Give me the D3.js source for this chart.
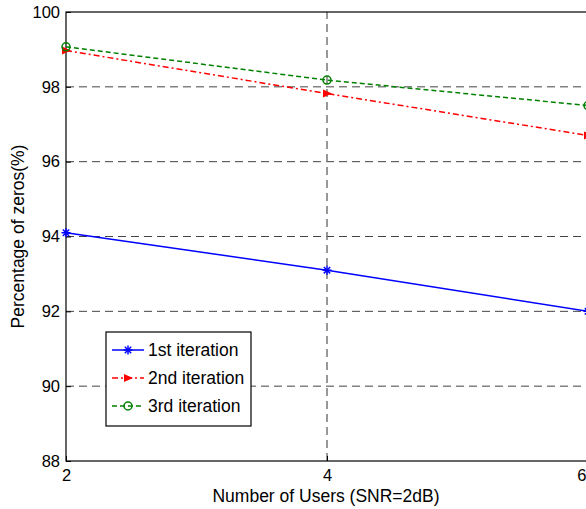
<!DOCTYPE html>
<html>
<head>
<meta charset="utf-8">
<script src="https://cdn.jsdelivr.net/npm/d3@7"></script>
<style>
  body { margin: 0; background: #fff; }
  svg { font-family: Arial, "Liberation Sans", sans-serif; }
</style>
</head>
<body>
<div class="chart"></div>
<script>
const width = 586, height = 509

// data
const users = [2, 4, 6]
const iter1 = [94.1, 93.1, 92.0]
const iter2 = [98.97, 97.82, 96.7]
const iter3 = [99.07, 98.18, 97.5]
const seriesNames = ['1st iteration', '2nd iteration', '3rd iteration']
const xTicks = [2, 4, 6]
const yTicks = [88, 90, 92, 94, 96, 98, 100]

const margin = { left: 66, top: 12, right: -2, bottom: 48 }

const svg = d3.select('.chart').append('svg')
    .attr('width', width)
    .attr('height', height)

const x = d3.scaleLinear().domain([2, 6]).range([margin.left, width - margin.right])
const y = d3.scaleLinear().domain([88, 100]).range([height - margin.bottom, margin.top])

// grid
svg.append('g').selectAll('line.hg')
    .data(yTicks.slice(1, -1))
    .enter().append('line')
    .attr('x1', x(2)).attr('x2', x(6))
    .attr('y1', d => y(d)).attr('y2', d => y(d))
    .attr('stroke', '#444')
    .attr('stroke-width', 1)
    .attr('stroke-dasharray', '8,5')
svg.append('g').selectAll('line.vg')
    .data(xTicks.slice(1, -1))
    .enter().append('line')
    .attr('x1', d => x(d)).attr('x2', d => x(d))
    .attr('y1', y(88)).attr('y2', y(100))
    .attr('stroke', '#777')
    .attr('stroke-width', 1.5)
    .attr('stroke-dasharray', '8,5')

// axes box
svg.append('rect')
    .attr('x', x(2)).attr('y', y(100))
    .attr('width', x(6) - x(2)).attr('height', y(88) - y(100))
    .attr('fill', 'none')
    .attr('stroke', '#000')
    .attr('stroke-width', 1.2)

const yAxis = d3.axisLeft(y).tickValues(yTicks).tickFormat(d3.format('d')).tickSize(-5).tickPadding(6)
svg.append('g')
    .attr('transform', `translate(${x(2)},0)`)
    .call(yAxis)
    .call(g => g.select('.domain').remove())
    .call(g => g.selectAll('text').style('font-size', '16.5px').attr('fill', '#000').style('font-family', 'Arial, Liberation Sans'))

const xAxis = d3.axisBottom(x).tickValues(xTicks).tickFormat(d3.format('d')).tickSize(-5).tickPadding(8)
svg.append('g')
    .attr('transform', `translate(0,${y(88)})`)
    .call(xAxis)
    .call(g => g.select('.domain').remove())
    .call(g => g.selectAll('text').style('font-size', '16.5px').attr('fill', '#000').style('font-family', 'Arial, Liberation Sans'))
    .call(g => g.selectAll('.tick').filter(d => d === 6).select('text').attr('text-anchor', 'end').attr('x', width - x(6)))

svg.append('text')
    .attr('x', 326).attr('y', 502)
    .attr('text-anchor', 'middle')
    .style('font-size', '17.5px')
    .text('Number of Users (SNR=2dB)')

svg.append('text')
    .attr('transform', `translate(24,${y(94)}) rotate(-90)`)
    .attr('text-anchor', 'middle')
    .style('font-size', '17.5px')
    .text('Percentage of zeros(%)')

const series = [
    { name: seriesNames[0], values: iter1, color: '#0000ff', dash: null, marker: 'star' },
    { name: seriesNames[1], values: iter2, color: '#ff0000', dash: '6,3,2,3', marker: 'tri' },
    { name: seriesNames[2], values: iter3, color: '#008000', dash: '5,3', marker: 'circle' }
]

const line = d3.line()
    .x((d, i) => x(users[i]))
    .y(d => y(d))

function drawMarker(g, type, cx, cy, color) {
    if (type === 'star') {
        const r = 4.5
        for (let a = 0; a < 180; a += 45) {
            const rad = a * Math.PI / 180
            g.append('line')
                .attr('x1', cx - r * Math.cos(rad)).attr('y1', cy - r * Math.sin(rad))
                .attr('x2', cx + r * Math.cos(rad)).attr('y2', cy + r * Math.sin(rad))
                .attr('stroke', color).attr('stroke-width', 1.5)
        }
    } else if (type === 'tri') {
        g.append('path')
            .attr('d', `M${cx - 4},${cy - 4} L${cx + 5},${cy} L${cx - 4},${cy + 4} Z`)
            .attr('fill', color)
    } else {
        g.append('circle')
            .attr('cx', cx).attr('cy', cy).attr('r', 4)
            .attr('fill', 'none').attr('stroke', color).attr('stroke-width', 1.5)
    }
}

const plot = svg.append('g').attr('class', 'series')
series.forEach(s => {
    plot.append('path')
        .datum(s.values)
        .attr('d', line)
        .attr('fill', 'none')
        .attr('stroke', s.color)
        .attr('stroke-width', 1.5)
        .attr('stroke-dasharray', s.dash)
    s.values.forEach((v, i) => drawMarker(plot, s.marker, x(users[i]), y(v), s.color))
})

// legend
const lg = svg.append('g').attr('class', 'legend')
lg.append('rect')
    .attr('x', 106).attr('y', 332)
    .attr('width', 145).attr('height', 94)
    .attr('fill', '#fff')
    .attr('stroke', '#000')
    .attr('stroke-width', 1.2)
series.forEach((s, i) => {
    const ly = 350 + i * 28
    lg.append('line')
        .attr('x1', 112).attr('x2', 144)
        .attr('y1', ly).attr('y2', ly)
        .attr('stroke', s.color)
        .attr('stroke-width', 1.5)
        .attr('stroke-dasharray', s.dash)
    drawMarker(lg, s.marker, 128, ly, s.color)
    lg.append('text')
        .attr('x', 148).attr('y', ly + 6)
        .style('font-size', '17.5px')
        .text(s.name)
})
</script>
</body>
</html>
